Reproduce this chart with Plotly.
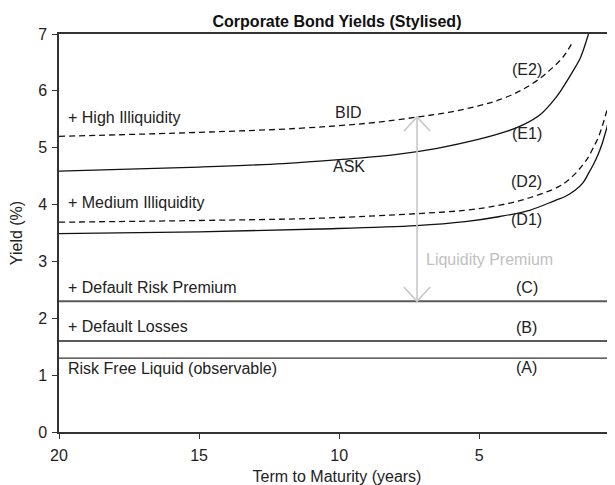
import plotly.graph_objects as go

# ---- data ----
title_text = "Corporate Bond Yields (Stylised)"
x_ticks = [20, 15, 10, 5]
y_ticks = [0, 1, 2, 3, 4, 5, 6, 7]

flat_x = [20, -0.2]
rate_A = [1.30, 1.30]   # Risk free liquid
rate_B = [1.60, 1.60]   # + default losses
rate_C = [2.30, 2.30]   # + default risk premium

d1_x = [20, 15, 10.7, 7.24, 5.5, 4.26, 3.2, 2.3, 1.9, 1.58, 1.3, 1.11, 0.93, 0.75, 0.62, 0.51, 0.41, 0.33, 0.25, 0.2, 0.15, 0.08]
d1_y = [3.49, 3.52, 3.57, 3.63, 3.70, 3.79, 3.90, 4.07, 4.15, 4.25, 4.38, 4.54, 4.70, 4.89, 5.06, 5.24, 5.42, 5.62, 5.85, 6.05, 6.28, 6.70]

d2_x = [20, 15, 10.7, 7.24, 5.5, 4.26, 3.2, 2.18, 1.85, 1.58, 1.3, 1.11, 0.93, 0.75, 0.62, 0.51, 0.41, 0.33, 0.25, 0.2, 0.15, 0.08]
d2_y = [3.69, 3.72, 3.76, 3.84, 3.90, 3.99, 4.12, 4.31, 4.42, 4.54, 4.70, 4.83, 5.00, 5.18, 5.36, 5.54, 5.72, 5.89, 6.12, 6.30, 6.50, 6.90]

e1_x = [20, 15, 12, 10, 8, 6.5, 5, 4, 3.4, 2.83, 2.3, 2.0, 1.64, 1.4, 1.29, 1.1]
e1_y = [4.59, 4.66, 4.72, 4.79, 4.88, 4.99, 5.15, 5.29, 5.41, 5.58, 5.86, 6.07, 6.36, 6.57, 6.71, 7.0]

e2_x = [20, 15, 11.5, 9, 7.2, 6, 5, 4.3, 3.5, 2.83, 2.4, 2.0, 1.65]
e2_y = [5.20, 5.27, 5.34, 5.43, 5.54, 5.63, 5.74, 5.84, 6.01, 6.22, 6.40, 6.60, 6.87]

# liquidity premium arrow (data positions)
arrow_x = 7.22
arrow_bottom = 2.30
arrow_top = 5.54

left_labels = ["+ High Illiquidity", "+ Medium Illiquidity", "+ Default Risk Premium",
               "+ Default Losses", "Risk Free Liquid (observable)"]
left_label_y = [5.53, 4.04, 2.55, 1.85, 1.12]
left_label_x = 19.76

curve_labels = ["(E2)", "(E1)", "(D2)", "(D1)", "(C)", "(B)", "(A)"]
curve_label_y = [6.37, 5.25, 4.41, 3.74, 2.54, 1.83, 1.14]
curve_label_x = 3.3

side_labels = ["BID", "ASK"]
side_label_y = [5.62, 4.67]
side_label_x = 9.66

premium_label = "Liquidity Premium"
premium_label_x = 6.98
premium_label_y = 3.03

# ---- styling ----
FONT = "Liberation Sans, Arial, Helvetica, sans-serif"
FS = 16
TXT = "#222222"
ARROW_COL = "#c8c8c8"
head_dx = 0.47   # arrow head half width (years)
head_dy = 0.25   # arrow head height (yield units)

fig = go.Figure()

def add_line(x, y, color="#111111", width=1.3, dash="solid", shape="spline"):
    fig.add_trace(go.Scatter(x=x, y=y, mode="lines", hoverinfo="skip",
                             line=dict(color=color, width=width, dash=dash, shape=shape,
                                       smoothing=1.0)))

add_line(flat_x, rate_A, color="#333333", width=1.1, shape="linear")
add_line(flat_x, rate_B, color="#222222", width=1.4, shape="linear")
add_line(flat_x, rate_C, color="#5a5a5a", width=1.9, shape="linear")

add_line(d1_x, d1_y)
add_line(d2_x, d2_y, dash="6px,4px")
add_line(e1_x, e1_y)
add_line(e2_x, e2_y, dash="6px,4px")

# arrow shaft and open heads
add_line([arrow_x, arrow_x], [arrow_bottom, arrow_top], color=ARROW_COL, width=1.6, shape="linear")
add_line([arrow_x + head_dx, arrow_x, arrow_x - head_dx],
         [arrow_top - head_dy, arrow_top, arrow_top - head_dy], color=ARROW_COL, width=1.6, shape="linear")
add_line([arrow_x + head_dx, arrow_x, arrow_x - head_dx],
         [arrow_bottom + head_dy, arrow_bottom, arrow_bottom + head_dy], color=ARROW_COL, width=1.6, shape="linear")

annotations = []
for t, yv in zip(left_labels, left_label_y):
    annotations.append(dict(x=left_label_x, y=yv, text=t, xanchor="left", yanchor="middle",
                            showarrow=False, font=dict(family=FONT, size=FS, color=TXT)))
for t, yv in zip(curve_labels, curve_label_y):
    annotations.append(dict(x=curve_label_x, y=yv, text=t, xanchor="center", yanchor="middle",
                            showarrow=False, font=dict(family=FONT, size=FS, color=TXT)))
for t, yv in zip(side_labels, side_label_y):
    annotations.append(dict(x=side_label_x, y=yv, text=t, xanchor="center", yanchor="middle",
                            showarrow=False, font=dict(family=FONT, size=FS, color=TXT)))
annotations.append(dict(x=premium_label_x, y=premium_label_y, text=premium_label, xanchor="left",
                        yanchor="middle", showarrow=False,
                        font=dict(family=FONT, size=FS, color="#c0c0c0")))

fig.update_layout(
    width=607, height=477,
    margin=dict(l=51, r=0, t=26, b=53, autoexpand=False),
    paper_bgcolor="white", plot_bgcolor="white",
    showlegend=False,
    title=dict(text="<b>" + title_text + "</b>", xref="paper", x=0.5, xanchor="center",
               yref="container", y=0.9715, yanchor="middle",
               font=dict(family=FONT, size=FS, color="#111111")),
    annotations=annotations,
    font=dict(family=FONT, size=FS, color=TXT),
)
fig.update_xaxes(range=[20, 0.154], tickvals=x_ticks, ticks="outside", ticklen=5, tickwidth=1.2,
                 tickcolor="#333333", showline=True, linecolor="#333333", linewidth=1.5, mirror=True,
                 showgrid=False, zeroline=False, automargin=False, ticklabelstandoff=3,
                 title=dict(text="Term to Maturity (years)", standoff=9,
                            font=dict(family=FONT, size=FS, color=TXT)),
                 tickfont=dict(family=FONT, size=FS, color=TXT))
fig.update_yaxes(range=[0, 7], tickvals=y_ticks, ticks="outside", ticklen=5, tickwidth=1.2,
                 tickcolor="#333333", showline=True, linecolor="#333333", linewidth=1.5,
                 showgrid=False, zeroline=False, automargin=False, ticklabelstandoff=2,
                 title=dict(text="Yield (%)", standoff=12,
                            font=dict(family=FONT, size=FS, color=TXT)),
                 tickfont=dict(family=FONT, size=FS, color=TXT))

fig.write_html("out.html")
